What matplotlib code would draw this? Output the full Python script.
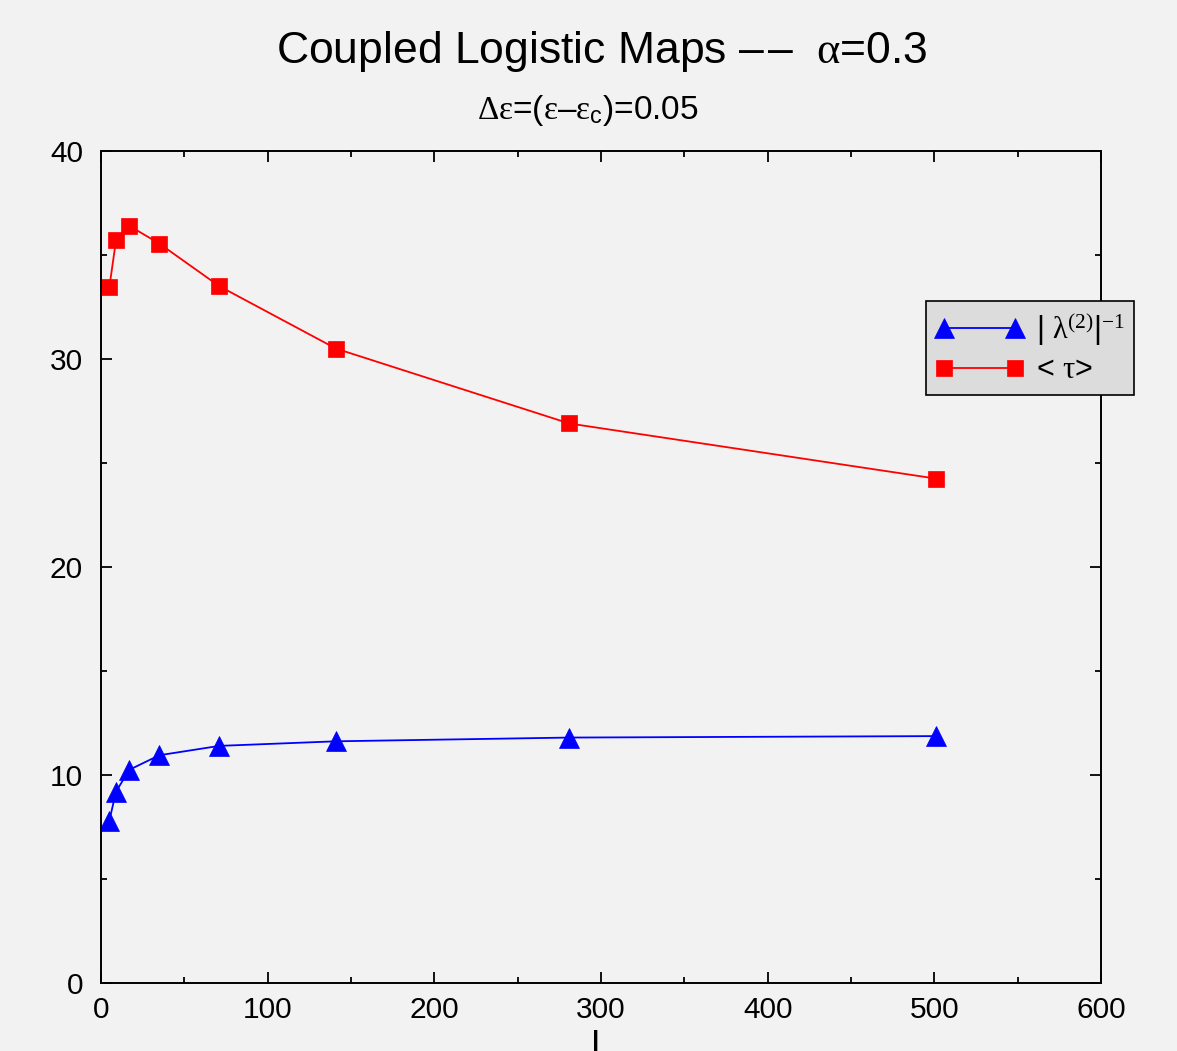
import matplotlib
matplotlib.use("Agg")
import matplotlib.pyplot as plt
from matplotlib.ticker import MultipleLocator

plt.rcParams["font.family"] = ["Liberation Sans", "DejaVu Sans"]
plt.rcParams["mathtext.fontset"] = "custom"
plt.rcParams["mathtext.rm"] = "Liberation Serif"
plt.rcParams["mathtext.it"] = "Liberation Serif:italic"
plt.rcParams["mathtext.sf"] = "Liberation Sans"

# system size L
L = [5, 9, 17, 35, 71, 141, 281, 501]
# inverse second Lyapunov exponent
lam_inv = [7.8, 9.2, 10.25, 10.95, 11.4, 11.62, 11.8, 11.87]
# mean time <tau>
tau_mean = [33.45, 35.7, 36.4, 35.55, 33.5, 30.5, 26.9, 24.25]

bg = "#f2f2f2"

fig = plt.figure(figsize=(11.77, 10.51), dpi=100, facecolor=bg)
ax = fig.add_axes([101 / 1177, 1 - 983 / 1051, 1000 / 1177, 832 / 1051])
ax.set_facecolor(bg)

ax.plot(L, lam_inv, "^-", color="#0000ff", lw=1.3, ms=15, mec="#0000ff", mew=0.5,
        label=r"| $\mathrm{\lambda^{(2)}}$|$^{\mathrm{-1}}$")
ax.plot(L, tau_mean, "s-", color="#ff0000", lw=1.3, ms=11.5, mec="#ff0000", mew=0.5,
        label=r"< $\mathrm{\tau}$>")

ax.set_xlim(0, 600)
ax.set_ylim(0, 40)
ax.xaxis.set_major_locator(MultipleLocator(100))
ax.xaxis.set_minor_locator(MultipleLocator(50))
ax.yaxis.set_major_locator(MultipleLocator(10))
ax.yaxis.set_minor_locator(MultipleLocator(5))
ax.tick_params(which="both", direction="in", top=True, right=True, labelsize=21.5, width=1.3)
ax.tick_params(which="major", length=8)
ax.tick_params(which="minor", length=4)
ax.tick_params(axis="y", pad=13)
ax.tick_params(axis="x", pad=9)
for s in ax.spines.values():
    s.set_linewidth(1.4)

ax.set_xlabel("L", fontsize=26)
ax.xaxis.set_label_coords(0.5, -0.055)

fig.text(0.511, 1 - 52 / 1051, "Coupled Logistic Maps \u2013\u200a\u2013  $\\mathrm{\\alpha}$=0.3",
         ha="center", va="center", fontsize=32)
fig.text(0.499, 1 - 110 / 1051,
         r"$\mathrm{\Delta\varepsilon}$=($\mathrm{\varepsilon}$–$\mathrm{\varepsilon}_\mathsf{c}$)=0.05",
         ha="center", va="center", fontsize=24)

leg = ax.legend(loc="upper left", bbox_to_anchor=(926 / 1177, 1 - 301 / 1051),
                bbox_transform=fig.transFigure, borderaxespad=0, numpoints=2,
                fontsize=22, handlelength=2.9, fancybox=False, framealpha=1,
                facecolor="#dcdcdc", edgecolor="black", borderpad=0.3,
                labelspacing=0.25, handletextpad=0.4)
leg.get_frame().set_linewidth(1.2)

fig.savefig("out.png", dpi=100, facecolor=bg)
